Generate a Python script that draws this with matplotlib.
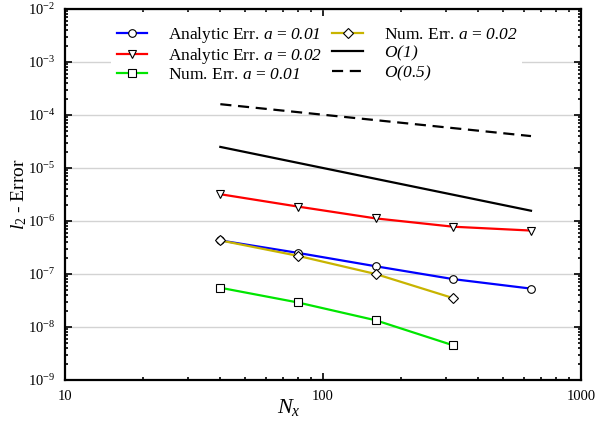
import numpy as np
import matplotlib
matplotlib.use('Agg')
import matplotlib.pyplot as plt
from matplotlib.ticker import LogLocator, FixedLocator, NullFormatter, FuncFormatter

plt.rcParams['font.family'] = ['Liberation Serif', 'DejaVu Serif']
plt.rcParams['mathtext.fontset'] = 'custom'
plt.rcParams['mathtext.rm'] = 'Liberation Serif'
plt.rcParams['mathtext.it'] = 'Liberation Serif:italic'
# cal sert ici a avoir les chiffres en italique dans la legende
plt.rcParams['mathtext.cal'] = 'Liberation Serif:italic'

# Donnees
nx = [40, 80, 160, 320, 640]
nx_num = [40, 80, 160, 320]
err_ana_001 = [4.3e-7, 2.5e-7, 1.4e-7, 8.0e-8, 5.3e-8]
err_ana_002 = [3.2e-6, 1.87e-6, 1.12e-6, 7.8e-7, 6.6e-7]
err_num_001 = [5.5e-8, 2.9e-8, 1.34e-8, 4.5e-9]
err_num_002 = [4.3e-7, 2.2e-7, 1.0e-7, 3.5e-8]
nx_ref = [40, 640]
ordre_1 = [2.5e-5, 1.5625e-6]
ordre_05 = [1.6e-4, 4.0e-5]

fig = plt.figure(figsize=(6.15, 4.21), dpi=100)
ax = fig.add_axes([65/615, 1 - 380/421, (581 - 65)/615, (380 - 9)/421])

mk = dict(markerfacecolor='white', markeredgecolor='black', markersize=5.5, markeredgewidth=0.8)
ax.plot(nx, err_ana_001, '-o', color='#0000ff', lw=1.6, label=r'Analytic Err. $\mathcal{a}$ = $\mathcal{0.01}$', **mk)
ax.plot(nx, err_ana_002, '-v', color='#ff0000', lw=1.6, label=r'Analytic Err. $\mathcal{a}$ = $\mathcal{0.02}$', **mk)
ax.plot(nx_num, err_num_001, '-s', color='#00e600', lw=1.6, label=r'Num. Err. $\mathcal{a}$ = $\mathcal{0.01}$', **mk)
ax.plot(nx_num, err_num_002, '-D', color='#c8b400', lw=1.6, label=r'Num. Err. $\mathcal{a}$ = $\mathcal{0.02}$', **mk)
ax.plot(nx_ref, ordre_1, '-', color='black', lw=1.6, label=r'$\mathcal{O(1)}$')
ax.plot(nx_ref, ordre_05, '--', color='black', lw=1.6, dashes=(5, 3), label=r'$\mathcal{O(0.5)}$')

ax.set_xscale('log')
ax.set_yscale('log')
ax.set_xlim(10, 1000)
ax.set_ylim(1e-9, 1e-2)

ax.yaxis.set_major_locator(FixedLocator([10.0**k for k in range(-9, -1)]))
ax.yaxis.set_major_formatter(FuncFormatter(lambda v, p: r'$10^{%d}$' % round(np.log10(v))))
ax.yaxis.set_minor_locator(LogLocator(base=10, subs=np.arange(2, 10), numticks=20))
ax.yaxis.set_minor_formatter(NullFormatter())
ax.xaxis.set_major_locator(FixedLocator([10, 100, 1000]))
ax.xaxis.set_major_formatter(FuncFormatter(lambda v, p: '%d' % v))
ax.xaxis.set_minor_locator(LogLocator(base=10, subs=np.arange(2, 10), numticks=20))
ax.xaxis.set_minor_formatter(NullFormatter())

ax.tick_params(which='both', direction='in', top=True, right=True, labelsize=10.5, width=1.2)
ax.tick_params(which='major', length=5, pad=7)
ax.tick_params(which='minor', length=2.5)
for s in ax.spines.values():
    s.set_linewidth(1.6)

ax.grid(True, which='major', axis='y', color='#d3d3d3', lw=1)
ax.set_axisbelow(True)

ax.set_xlabel(r'$N_x$', fontsize=16)
ax.xaxis.set_label_coords(0.434, -0.045)
ax.set_ylabel(r'$\mathit{l}_2$ - Error', fontsize=14)
ax.yaxis.set_label_coords(-0.07, 0.5)

ax.legend(ncol=2, loc='upper center', bbox_to_anchor=(0.488, 0.995), frameon=True,
          edgecolor='none', facecolor='white', framealpha=1, fontsize=12.5,
          handlelength=1.75, columnspacing=0.6, labelspacing=0.05, handletextpad=1.2,
          borderpad=0.3)

fig.savefig('out.png', dpi=100)
